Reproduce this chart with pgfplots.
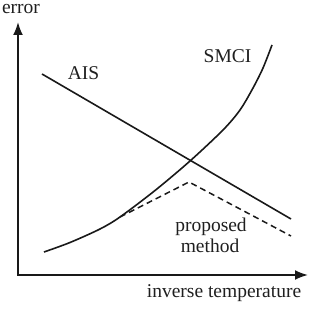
\documentclass[border=0pt]{standalone}
\usepackage{fontspec}
\setmainfont{Liberation Serif}
\usepackage{pgfplots}
\pgfplotsset{compat=1.18}
\usetikzlibrary{arrows.meta}
\newcommand{\lbl}{\fontsize{19.5}{22}\selectfont}
\begin{document}
\begin{tikzpicture}
\begin{axis}[
  scale only axis, width=310pt, height=308pt,
  xmin=0, xmax=310, ymin=0, ymax=308,
  hide axis, clip=false,
]
% invisible frame to fix the bounding box
\addplot[draw=none, forget plot] coordinates {(0,0) (310,308)};
% axes (y = 308 - pixel row)
\addplot[line width=2pt, black!90, -{Latex[length=13pt,width=10pt]}] coordinates {(18,33) (18,286)};
\addplot[line width=2pt, black!90, -{Latex[length=13pt,width=10pt]}] coordinates {(17,33) (308,33)};
% AIS
\addplot[line width=1.6pt, black!90] coordinates {(42,234) (291,89)};
% SMCI
\addplot[line width=1.6pt, black!90, smooth] coordinates {
(44,56) (70,65.5) (100,79) (120,91) (155,117.5) (190,147) (223,178) (240,198) (253,220) (263,240) (272,263)};
% proposed method
\addplot[line width=1.5pt, black!90, dash pattern=on 6pt off 4pt] coordinates {(120,91) (189,126) (291,72)};
\node[anchor=base, inner sep=0pt, text=black!88] at (axis cs:21,294.5) {\lbl error};
\node[anchor=base, inner sep=0pt, text=black!88] at (axis cs:83.5,228) {\lbl AIS};
\node[anchor=base, inner sep=0pt, text=black!88] at (axis cs:227.5,245) {\lbl SMCI};
\node[anchor=base, inner sep=0pt, text=black!88] at (axis cs:211,77) {\lbl proposed};
\node[anchor=base, inner sep=0pt, text=black!88] at (axis cs:210,56) {\lbl method};
\node[anchor=base, inner sep=0pt, text=black!88] at (axis cs:224,11) {\lbl inverse temperature};
\end{axis}
\end{tikzpicture}
\end{document}
